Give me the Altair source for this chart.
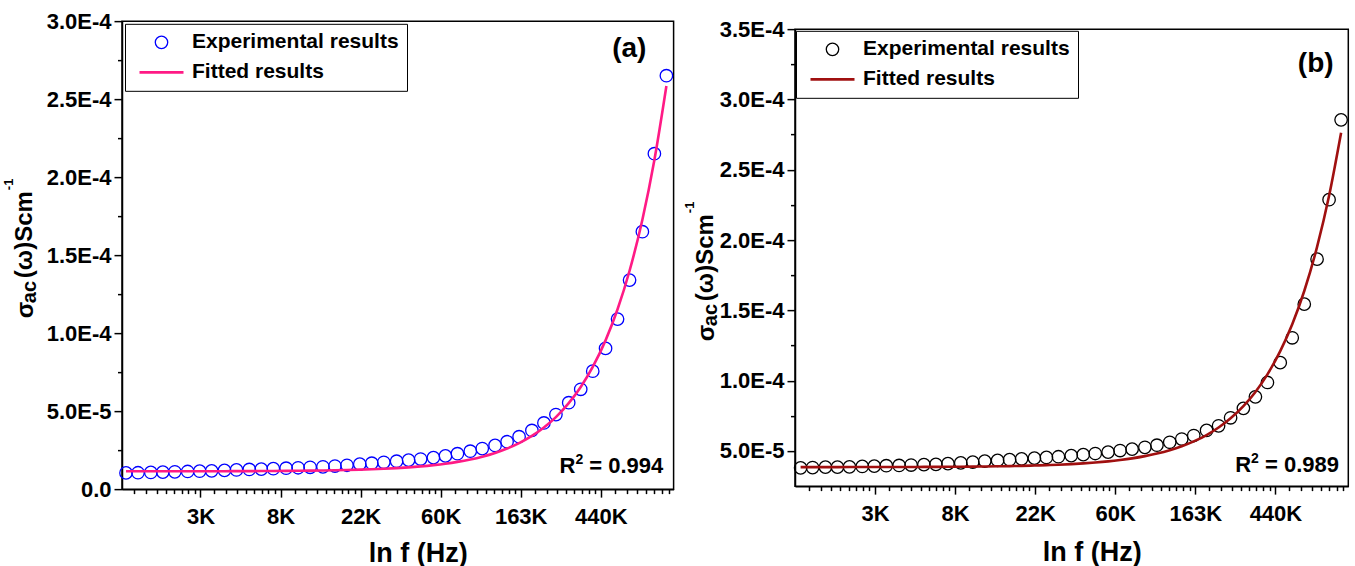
import math
import altair as alt
import pandas as pd

FONT = "Liberation Sans"
SERIES = ["Experimental results", "Fitted results"]

# ln f values of the measured frequencies
ln_f = [7.07, 7.22, 7.38, 7.53, 7.68, 7.84, 7.99, 8.14, 8.30, 8.45, 8.61, 8.76, 8.91, 9.07, 9.22,
        9.37, 9.53, 9.68, 9.83, 9.99, 10.14, 10.29, 10.45, 10.60, 10.75, 10.91, 11.06, 11.21, 11.37, 11.52,
        11.68, 11.83, 11.98, 12.14, 12.29, 12.44, 12.60, 12.75, 12.90, 13.06, 13.21, 13.36, 13.52, 13.67, 13.82]

# panel (a)
sigma_a = [1.04e-5, 1.05e-5, 1.07e-5, 1.09e-5, 1.11e-5, 1.13e-5, 1.15e-5, 1.17e-5, 1.20e-5, 1.23e-5,
           1.26e-5, 1.28e-5, 1.31e-5, 1.34e-5, 1.37e-5, 1.40e-5, 1.43e-5, 1.48e-5, 1.53e-5, 1.60e-5,
           1.66e-5, 1.72e-5, 1.79e-5, 1.86e-5, 1.93e-5, 2.02e-5, 2.13e-5, 2.27e-5, 2.43e-5, 2.60e-5,
           2.80e-5, 3.04e-5, 3.36e-5, 3.76e-5, 4.24e-5, 4.78e-5, 5.54e-5, 6.40e-5, 7.56e-5, 9.02e-5,
           1.09e-4, 1.34e-4, 1.65e-4, 2.15e-4, 2.65e-4]
fit_a = [1.142e-5, 1.142e-5, 1.143e-5, 1.143e-5, 1.144e-5, 1.145e-5, 1.146e-5, 1.148e-5, 1.150e-5, 1.152e-5,
         1.155e-5, 1.159e-5, 1.163e-5, 1.169e-5, 1.176e-5, 1.185e-5, 1.196e-5, 1.209e-5, 1.226e-5, 1.247e-5,
         1.273e-5, 1.304e-5, 1.346e-5, 1.395e-5, 1.456e-5, 1.537e-5, 1.630e-5, 1.747e-5, 1.902e-5, 2.082e-5,
         2.322e-5, 2.603e-5, 2.951e-5, 3.412e-5, 3.951e-5, 4.619e-5, 5.509e-5, 6.547e-5, 7.832e-5, 9.535e-5,
         1.153e-4, 1.400e-4, 1.727e-4, 2.110e-4, 2.584e-4]

# panel (b)
sigma_b = [3.80e-5, 3.82e-5, 3.85e-5, 3.85e-5, 3.87e-5, 3.90e-5, 3.92e-5, 3.95e-5, 3.97e-5, 4.00e-5,
           4.03e-5, 4.05e-5, 4.10e-5, 4.15e-5, 4.21e-5, 4.28e-5, 4.33e-5, 4.38e-5, 4.44e-5, 4.49e-5,
           4.54e-5, 4.59e-5, 4.67e-5, 4.74e-5, 4.82e-5, 4.92e-5, 5.03e-5, 5.13e-5, 5.26e-5, 5.41e-5,
           5.62e-5, 5.85e-5, 6.10e-5, 6.46e-5, 6.79e-5, 7.36e-5, 8.03e-5, 8.85e-5, 9.87e-5, 1.128e-4,
           1.305e-4, 1.544e-4, 1.864e-4, 2.287e-4, 2.855e-4]
fit_b = [3.852e-5, 3.852e-5, 3.853e-5, 3.854e-5, 3.855e-5, 3.856e-5, 3.857e-5, 3.859e-5, 3.861e-5, 3.863e-5,
         3.867e-5, 3.871e-5, 3.875e-5, 3.882e-5, 3.889e-5, 3.898e-5, 3.910e-5, 3.924e-5, 3.941e-5, 3.964e-5,
         3.991e-5, 4.023e-5, 4.067e-5, 4.117e-5, 4.179e-5, 4.261e-5, 4.358e-5, 4.475e-5, 4.632e-5, 4.814e-5,
         5.054e-5, 5.334e-5, 5.679e-5, 6.135e-5, 6.667e-5, 7.322e-5, 8.190e-5, 9.199e-5, 1.0449e-4, 1.2097e-4,
         1.401e-4, 1.6375e-4, 1.951e-4, 2.3145e-4, 2.763e-4]

X_TICKS = [8, 9, 10, 11, 12, 13]
X_LABELS = ["3K", "8K", "22K", "60K", "163K", "440K"]
Y_TICKS_A = [0, 5e-5, 1e-4, 1.5e-4, 2e-4, 2.5e-4, 3e-4]
Y_LABELS_A = ["0.0", "5.0E-5", "1.0E-4", "1.5E-4", "2.0E-4", "2.5E-4", "3.0E-4"]
Y_TICKS_B = [5e-5, 1e-4, 1.5e-4, 2e-4, 2.5e-4, 3e-4, 3.5e-4]
Y_LABELS_B = ["5.0E-5", "1.0E-4", "1.5E-4", "2.0E-4", "2.5E-4", "3.0E-4", "3.5E-4"]
R2_A = "0.994"
R2_B = "0.989"


def minor_x(dom):
    out = []
    for n in range(7, 14):
        for k in range(1, 9):
            v = n + math.log(1 + k * (math.e - 1) / 9)
            if dom[0] < v < dom[1]:
                out.append(v)
    return out


def txt(t, x, y, size, align="center", baseline="middle", angle=0, opacity=1):
    return alt.Chart(pd.DataFrame({"t": [t]})).mark_text(
        align=align, baseline=baseline, fontSize=size, font=FONT, fontWeight="bold",
        angle=angle, color="black", opacity=opacity).encode(text="t:N", x=alt.value(x), y=alt.value(y))


def r2_texts(value, xr, yb):
    rest = " = " + value
    w_rest = 22 * 3.642  # Arial-metric bold width of " = 0.xxx"
    return [
        txt(rest, xr, yb, 22, align="right", baseline="alphabetic"),
        txt("2", xr - w_rest, yb - 9, 14, align="right", baseline="alphabetic"),
        txt("R", xr - w_rest - 14 * 0.556, yb, 22, align="right", baseline="alphabetic"),
    ]


def panel(sig, fit, colors, x_dom, y_dom, y_vals, y_labs, W, H, tag, tag_xy, r2, r2_xy,
          leg_xy, ttl_x, ttl_y, title_pad, bottom_pad=None):
    pts_df = pd.DataFrame({"lnf": ln_f, "sigma": sig, "series": SERIES[0]})
    fit_df = pd.DataFrame({"lnf": ln_f, "sigma": fit, "series": SERIES[1]})
    xs = alt.Scale(domain=x_dom, nice=False, zero=False)
    ys = alt.Scale(domain=y_dom, nice=False, zero=False)
    idx0 = round(y_vals[0] / 5e-5)
    x_expr = "[" + ",".join("'%s'" % l for l in X_LABELS) + "][round(datum.value) - %d]" % X_TICKS[0]
    y_expr = "[" + ",".join("'%s'" % l for l in y_labs) + "][round(datum.value / 5e-5) - %d]" % idx0
    y_minor = [v + 2.5e-5 for v in y_vals[:-1]]
    if y_vals[0] - 2.5e-5 > y_dom[0] + 1e-9:
        y_minor = [y_vals[0] - 2.5e-5] + y_minor

    leg = alt.Legend(title=None, orient="none", legendX=leg_xy[0], legendY=leg_xy[1],
                     direction="vertical", strokeColor="black", fillColor="white", padding=8,
                     symbolOffset=5, labelOffset=7, rowPadding=8, labelFont=FONT, labelFontSize=21,
                     labelFontWeight="bold", labelColor="black", clipHeight=21, labelLimit=400)

    minor = alt.Chart(pts_df).mark_point(opacity=0).encode(
        x=alt.X("lnf:Q", scale=xs, axis=alt.Axis(values=minor_x(x_dom), labels=False, tickSize=4.5,
                                                domain=False, title=None, orient="bottom", grid=False)),
        y=alt.Y("sigma:Q", scale=ys, axis=alt.Axis(values=y_minor, labels=False, tickSize=4.5,
                                                  domain=False, title=None, orient="left", grid=False)))

    pts = alt.Chart(pts_df).mark_point(filled=False, opacity=1).encode(
        x=alt.X("lnf:Q", scale=xs, axis=alt.Axis(values=X_TICKS, labelExpr=x_expr, title="ln f (Hz)",
                                                tickSize=8, labelPadding=9, titlePadding=title_pad,
                                                titleX=W / 2 + 20, labelOverlap=False, orient="bottom")),
        y=alt.Y("sigma:Q", scale=ys, axis=alt.Axis(values=y_vals, labelExpr=y_expr, title=None,
                                                  tickSize=8, labelPadding=3, labelOverlap=False,
                                                  orient="left")),
        color=alt.Color("series:N", scale=alt.Scale(domain=SERIES, range=colors), legend=leg),
        shape=alt.Shape("series:N", scale=alt.Scale(domain=SERIES, range=["circle", "stroke"]), legend=leg),
        size=alt.Size("series:N", scale=alt.Scale(type="ordinal", domain=SERIES, range=[155, 1936]), legend=leg),
        strokeWidth=alt.StrokeWidth("series:N", scale=alt.Scale(type="ordinal", domain=SERIES, range=[1.3, 2.6]),
                                    legend=leg),
    )
    line = alt.Chart(fit_df).mark_line(strokeWidth=2.6, interpolate="monotone").encode(
        x=alt.X("lnf:Q", scale=xs, axis=None),
        y=alt.Y("sigma:Q", scale=ys, axis=None),
        color=alt.Color("series:N", scale=alt.Scale(domain=SERIES, range=colors), legend=leg),
    )
    texts = [
        txt(tag, tag_xy[0], tag_xy[1], 28),
        *r2_texts(r2, r2_xy[0], r2_xy[1]),
        txt("σ", ttl_x[0], ttl_y[0], 24, align="left", baseline="alphabetic", angle=270),
        txt("ac", ttl_x[1], ttl_y[1], 20, align="left", baseline="alphabetic", angle=270),
        txt("(ω)Scm", ttl_x[2], ttl_y[2], 24, align="left", baseline="alphabetic", angle=270),
        txt("-1", ttl_x[3], ttl_y[3], 13, align="left", baseline="alphabetic", angle=270),
    ]
    if bottom_pad is not None:
        # invisible spacer text that only extends the panel's layout bounds downward
        texts.append(txt(".", W / 2, H + bottom_pad, 6, baseline="bottom", opacity=0))
    return alt.layer(minor, pts, line, *texts).resolve_axis(x="independent", y="independent").properties(
        width=W, height=H)


left = panel(sigma_a, fit_a, ["#0000FF", "#FF1A85"], [7.02, 13.91], [0, 3e-4], Y_TICKS_A, Y_LABELS_A,
             551.6, 468, "(a)", (507.3, 28), R2_A, (541.3, 451.7), (3, 2.7),
             (-88.7, -85.7, -89.7, -109), (297, 282, 257, 169), 13, bottom_pad=84)

right = panel(sigma_b, fit_b, ["#000000", "#A01010"], [7.0, 13.91], [2.5e-5, 3.5e-4], Y_TICKS_B, Y_LABELS_B,
              553.3, 457, "(b)", (520.7, 34.7), R2_B, (544, 442.4), (1, 1.7),
              (-81, -78.5, -82, -101), (312, 297, 272, 184), 15)

chart = alt.hconcat(left, right, spacing=7, center=True).resolve_scale(
    x="independent", y="independent", color="independent", shape="independent",
    size="independent", strokeWidth="independent").properties(
    padding={"left": 2, "top": 9, "right": 0, "bottom": 0}, background="white"
).configure_view(stroke="black", strokeWidth=1.5).configure_axis(
    labelFont=FONT, labelFontSize=22, labelFontWeight="bold", labelColor="black",
    titleFont=FONT, titleFontSize=27, titleFontWeight="bold", titleColor="black",
    domainColor="black", domainWidth=1.5, tickColor="black", tickWidth=1.5, grid=False)

chart.save("out.html", embed_options={"renderer": "svg", "actions": False})
